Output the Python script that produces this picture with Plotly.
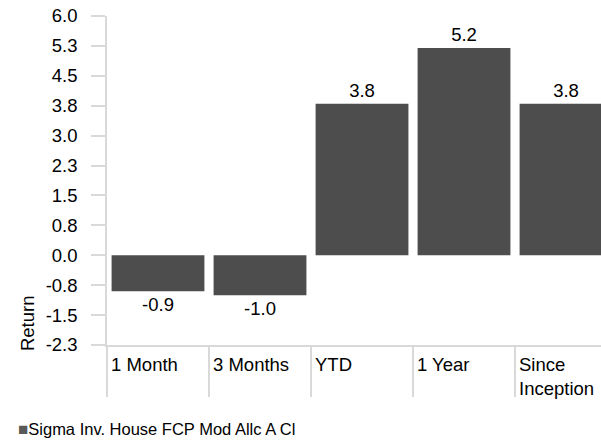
import plotly.graph_objects as go

# Return by period
periods = ["1 Month", "3 Months", "YTD", "1 Year", "Since Inception"]
period_labels = ["1 Month", "3 Months", "YTD", "1 Year", "Since<br>Inception"]
returns = [-0.9, -1.0, 3.8, 5.2, 3.8]
series_name = "Sigma Inv. House FCP Mod Allc A Cl"

# Y axis ticks (step 0.75, labels shown to one decimal)
y_tickvals = [6.0, 5.25, 4.5, 3.75, 3.0, 2.25, 1.5, 0.75, 0.0, -0.75, -1.5, -2.25]
y_ticktext = ["6.0", "5.3", "4.5", "3.8", "3.0", "2.3", "1.5", "0.8", "0.0", "-0.8", "-1.5", "-2.3"]

FONT = "Liberation Sans, Arial, sans-serif"
BAR_COLOR = "#4d4d4d"
AXIS_COLOR = "#d9d9d9"
TEXT_COLOR = "#000000"
FS = 18.5

fig = go.Figure()
fig.add_trace(go.Bar(
    x=periods,
    y=returns,
    name=series_name,
    marker=dict(color=BAR_COLOR, line=dict(width=0)),
    width=0.91,
    text=[f"{v:.1f}" for v in returns],
    textposition="outside",
    textfont=dict(family=FONT, size=FS, color=TEXT_COLOR),
    cliponaxis=False,
    showlegend=False,
))

annotations = []
# category labels, left-aligned at each category boundary
for i, lab in enumerate(period_labels):
    annotations.append(dict(
        x=i - 0.5, xref="x", y=0, yref="paper",
        text=lab, showarrow=False, xanchor="left", yanchor="top",
        align="left", xshift=2, yshift=-7,
        font=dict(family=FONT, size=FS, color=TEXT_COLOR),
    ))

# axis title
annotations.append(dict(
    x=0, xref="paper", y=-1.7, yref="y", text="Return", textangle=-90,
    showarrow=False, xanchor="center", yanchor="middle", xshift=-80,
    font=dict(family=FONT, size=FS, color=TEXT_COLOR),
))

# series key
annotations.append(dict(
    x=0, xref="paper", y=0, yref="paper",
    text=f'<span style="color:#595959;font-size:17px">■</span>{series_name}',
    showarrow=False, xanchor="left", yanchor="middle", xshift=-90, yshift=-84,
    borderpad=0,
    font=dict(family=FONT, size=16.5, color=TEXT_COLOR),
))

fig.update_layout(
    width=601, height=441,
    margin=dict(l=107, r=0, t=16, b=96, pad=0),
    paper_bgcolor="white", plot_bgcolor="white",
    font=dict(family=FONT, size=FS, color=TEXT_COLOR),
    bargap=0.09,
    annotations=annotations,
    xaxis=dict(
        type="category",
        range=[-0.5, 4.343],
        showgrid=False, zeroline=False,
        showline=True, linecolor=AXIS_COLOR, linewidth=1.5,
        ticks="outside", tickson="boundaries", ticklen=50,
        tickcolor=AXIS_COLOR, tickwidth=1.5,
        showticklabels=False,
    ),
    yaxis=dict(
        range=[-2.25, 6.0],
        tickvals=y_tickvals, ticktext=y_ticktext,
        showgrid=False, zeroline=False,
        showline=True, linecolor=AXIS_COLOR, linewidth=1.5,
        ticks="outside", ticklen=14, tickcolor=AXIS_COLOR, tickwidth=1.5,
        ticklabelstandoff=10,
        tickfont=dict(family=FONT, size=FS, color=TEXT_COLOR),
    ),
)

fig.write_html("out.html")
